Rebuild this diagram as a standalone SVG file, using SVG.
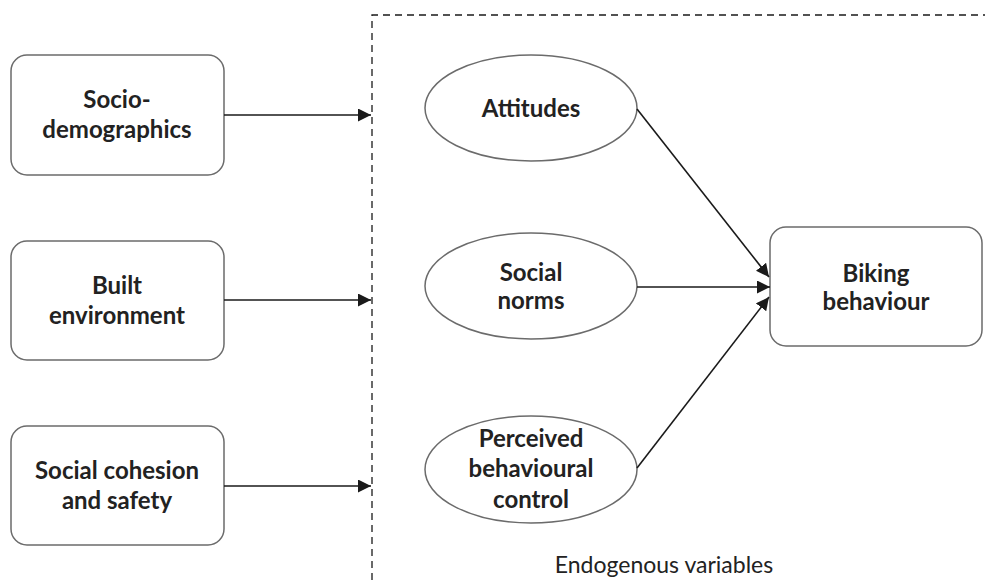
<svg xmlns="http://www.w3.org/2000/svg" width="985" height="580" viewBox="0 0 985 580">
<style>
.box{fill:#fff;stroke:#6b6b6b;stroke-width:1.5}
.lbl{font-family:Lato,"Open Sans",sans-serif;font-weight:bold;font-size:24px;fill:#222;text-anchor:middle}
.edge{stroke:#1a1a1a;stroke-width:1.6;fill:none}
.dash{stroke:#1a1a1a;stroke-width:1.3;fill:none;stroke-dasharray:7,5}
</style>
<defs>
<marker id="ah2" markerWidth="13" markerHeight="13" refX="13" refY="6.5" orient="auto" markerUnits="userSpaceOnUse" viewBox="0 0 13 13">
<path d="M0,0 L13,6.5 L0,13 Z" fill="#1a1a1a"/>
</marker>
</defs>
<g id="boundary">
<path class="dash" d="M372,580 L372,15 L985,15"/>
<text x="664" y="573" style="font-family:Lato,'Open Sans',sans-serif;font-size:23px;fill:#222;text-anchor:middle">Endogenous variables</text>
</g>
<g id="socio">
<rect class="box" x="11" y="55" width="213" height="120" rx="16"/>
<text class="lbl" x="117" y="108">Socio-</text>
<text class="lbl" x="117" y="138">demographics</text>
</g>
<g id="built">
<rect class="box" x="11" y="241" width="213" height="119" rx="16"/>
<text class="lbl" x="117" y="294">Built</text>
<text class="lbl" x="117" y="324">environment</text>
</g>
<g id="cohesion">
<rect class="box" x="11" y="426" width="213" height="119" rx="16"/>
<text class="lbl" x="117" y="479">Social cohesion</text>
<text class="lbl" x="117" y="509">and safety</text>
</g>
<g id="attitudes">
<ellipse class="box" cx="531" cy="108" rx="106" ry="53"/>
<text class="lbl" x="531" y="117">Attitudes</text>
</g>
<g id="norms">
<ellipse class="box" cx="531" cy="286" rx="106" ry="53"/>
<text class="lbl" x="531" y="281">Social</text>
<text class="lbl" x="531" y="309">norms</text>
</g>
<g id="pbc">
<ellipse class="box" cx="531" cy="469.5" rx="106" ry="53.5"/>
<text class="lbl" x="531" y="447">Perceived</text>
<text class="lbl" x="531" y="477">behavioural</text>
<text class="lbl" x="531" y="508">control</text>
</g>
<g id="biking">
<rect class="box" x="770" y="227" width="212" height="119" rx="16"/>
<text class="lbl" x="876" y="282">Biking</text>
<text class="lbl" x="876" y="310">behaviour</text>
</g>
<g id="connectors">
<line class="edge" x1="224" y1="115" x2="371" y2="115" marker-end="url(#ah2)"/>
<line class="edge" x1="224" y1="300" x2="371" y2="300" marker-end="url(#ah2)"/>
<line class="edge" x1="224" y1="486" x2="371" y2="486" marker-end="url(#ah2)"/>
<line class="edge" x1="637" y1="109" x2="769" y2="277" marker-end="url(#ah2)"/>
<line class="edge" x1="637" y1="287" x2="770" y2="287" marker-end="url(#ah2)"/>
<line class="edge" x1="637" y1="468" x2="769" y2="297" marker-end="url(#ah2)"/>
</g>
</svg>
